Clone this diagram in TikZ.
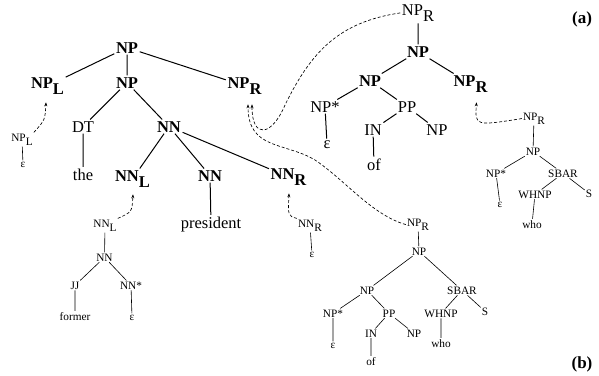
\documentclass[tikz,border=0pt]{standalone}
\usepackage{fontspec}
\setmainfont{Liberation Serif}
\usepackage{tikz}
\usetikzlibrary{arrows.meta,calc}
\def\TreeBig{\fontsize{16.5}{18}\selectfont}
\def\TreeSmall{\fontsize{11.3}{13}\selectfont}
\newcommand{\lowsub}[2]{#1\raisebox{-.4em}{#2}}
\tikzset{
	big/.style={font=\TreeBig\bfseries,inner sep=1.5pt,anchor=base},
	mid/.style={font=\TreeBig,inner sep=1.5pt,anchor=base},
	small/.style={font=\TreeSmall,inner sep=1pt,anchor=base},
	tag/.style={font=\fontsize{17}{19}\selectfont\bfseries,inner sep=0pt,anchor=base},
	edge/.style={line width=1pt},
	sedge/.style={line width=0.6pt},
	adjoin/.style={dash pattern=on 3pt off 2pt,line width=0.65pt,-{Stealth[length=4pt,width=3pt]}},
}

\begin{document}
\begin{tikzpicture}[x=1pt,y=-1pt]
	\useasboundingbox (0,0) rectangle (599,375);
	% 
	\node[big] (np) at (127,53) {NP};
	\node[big] (npl) at (47.5,88) {\lowsub{NP}{L}};
	\node[big] (npm) at (127,88) {NP};
	\node[big] (npr) at (244.5,88) {\lowsub{NP}{R}};
	\node[mid] (dt) at (83,132) {DT};
	\node[big] (nn) at (169,132) {NN};
	\node[mid] (the) at (83,180) {the};
	\node[big] (nnl) at (132.5,181) {\lowsub{NN}{L}};
	\node[big] (nnm) at (210,181) {NN};
	\node[big] (nnr) at (288.5,179) {\lowsub{NN}{R}};
	\node[mid] (pres) at (211,228) {president};
	% 
	\node[small] (snpl) at (22,141) {\lowsub{NP}{L}};
	\node[small] (snple) at (23,167) {ε};
	\node[small] (snnl) at (105,227) {\lowsub{NN}{L}};
	\node[small] (snn) at (104.5,261) {NN};
	\node[small] (sjj) at (75,289) {JJ};
	\node[small] (snns) at (131,289) {NN*};
	\node[small] (sformer) at (75,320) {former};
	\node[small] (snnse) at (132,320) {ε};
	\node[small] (snnr) at (310,227) {\lowsub{NN}{R}};
	\node[small] (snnre) at (312,257) {ε};
	% 
	\node[mid] (anpr) at (418,15) {\lowsub{NP}{R}};
	\node[big] (anp) at (418,57) {NP};
	\node[big] (anpa) at (370,86) {NP};
	\node[big] (anpr2) at (470.5,86) {\lowsub{NP}{R}};
	\node[mid] (anps) at (325,112) {NP*};
	\node[mid] (app) at (407,112) {PP};
	\node[mid] (aeps) at (327,148) {ε};
	\node[mid] (ain) at (373,135) {IN};
	\node[mid] (anpb) at (437,135) {NP};
	\node[mid] (aof) at (374,170) {of};
	% 
	\node[small] (cnpr) at (534,120) {\lowsub{NP}{R}};
	\node[small] (cnp) at (533,155) {NP};
	\node[small] (cnps) at (496,177) {NP*};
	\node[small] (csbar) at (563,177) {SBAR};
	\node[small] (ceps) at (500,207) {ε};
	\node[small] (cwhnp) at (535,198) {WHNP};
	\node[small] (cs) at (589,197) {S};
	\node[small] (cwho) at (532,228) {who};
	% 
	\node[small] (bnpr) at (418,226) {\lowsub{NP}{R}};
	\node[small] (bnp) at (419,255) {NP};
	\node[small] (bnpa) at (367,294) {NP};
	\node[small] (bsbar) at (462,294) {SBAR};
	\node[small] (bnps) at (333,317) {NP*};
	\node[small] (bpp) at (389,317) {PP};
	\node[small] (bwhnp) at (441,317) {WHNP};
	\node[small] (bs) at (485,315) {S};
	\node[small] (beps) at (333,348) {ε};
	\node[small] (bin) at (371,337) {IN};
	\node[small] (bnpb) at (414,337) {NP};
	\node[small] (bwho) at (441,347) {who};
	\node[small] (bof) at (371,365) {of};
	% 
	\node[tag] (taga) at (582,23) {(a)};
	\node[tag] (tagb) at (582,368) {(b)};
	% 
	\draw[edge] (np) -- (npl) (np) -- (npm) (np) -- (npr);
	\draw[edge] (npm) -- (dt) (npm) -- (nn) (dt) -- (the);
	\draw[edge] (nn) -- (nnl) (nn) -- (nnm) (nn) -- (nnr) (nnm) -- (pres);
	\draw[edge] (anpr) -- (anp) (anp) -- (anpa) (anp) -- (anpr2);
	\draw[edge] (anpa) -- (anps) (anpa) -- (app) (anps) -- (aeps);
	\draw[edge] (app) -- (ain) (app) -- (anpb) (ain) -- (aof);
	% 
	\draw[sedge] (snpl) -- (snple) (snnr) -- (snnre);
	\draw[sedge] (snnl) -- (snn) (snn) -- (sjj) (snn) -- (snns) (sjj) -- (sformer) (snns) -- (snnse);
	\draw[sedge] (cnpr) -- (cnp) (cnp) -- (cnps) (cnp) -- (csbar) (cnps) -- (ceps);
	\draw[sedge] (csbar) -- (cwhnp) (csbar) -- (cs) (cwhnp) -- (cwho);
	\draw[sedge] (bnpr) -- (bnp) (bnp) -- (bnpa) (bnp) -- (bsbar);
	\draw[sedge] (bnpa) -- (bnps) (bnpa) -- (bpp) (bsbar) -- (bwhnp) (bsbar) -- (bs);
	\draw[sedge] (bnps) -- (beps) (bpp) -- (bin) (bpp) -- (bnpb) (bin) -- (bof) (bwhnp) -- (bwho);
	% 
	\coordinate (tipl) at ($(npl.south)+(-1.5,6)$);
	\coordinate (tipnnl) at ($(nnl.south)+(0.5,5)$);
	\coordinate (tipnnr) at ($(nnr.south)+(0.5,6)$);
	\coordinate (tipa) at ($(anpr2.south)+(6,8)$);
	\coordinate (tipr1) at ($(npr.south)+(7.5,8)$);
	\coordinate (tipr2) at ($(npr.south)+(3.5,8)$);
	% 
	\draw[adjoin] (snpl.north east) .. controls (45,120) .. (tipl);
	\draw[adjoin] (snnl.north east) .. controls (132,212) .. (tipnnl);
	\draw[adjoin] (snnr.north west) .. controls (288,216) .. (tipnnr);
	\draw[adjoin] (cnpr.west) .. controls (475,126) .. (tipa);
	\draw[adjoin] (anpr.west) .. controls (340,22) and (312,50) .. (285,105) .. controls (272,136) and (252,140) .. (tipr1);
	\draw[adjoin] (bnpr.west) .. controls (372,215) and (345,180) .. (315,160) .. controls (285,142) and (248,150) .. (tipr2);
\end{tikzpicture}
\end{document}
